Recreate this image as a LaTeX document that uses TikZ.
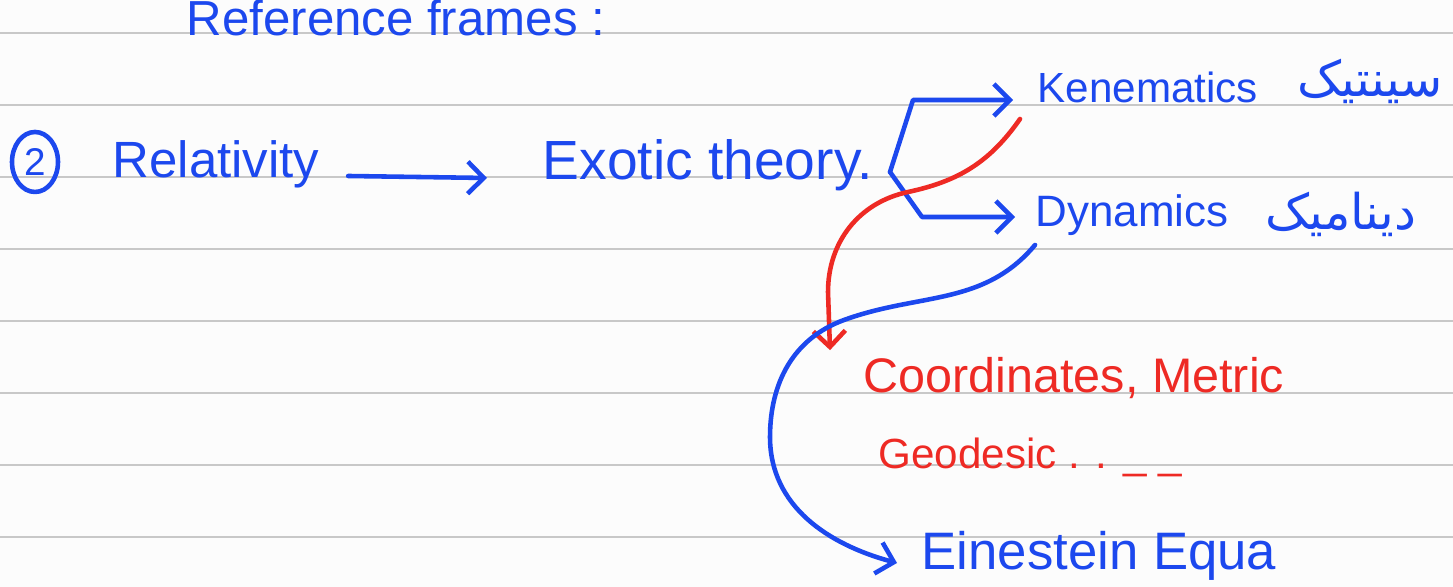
\documentclass[tikz,border=0pt]{standalone}
\usepackage{fontspec}
\setmainfont{Liberation Sans}
\newfontfamily\farsifont[Script=Arabic]{DejaVu Sans}
\TeXXeTstate=1
\usetikzlibrary{arrows.meta,shapes.geometric}
\definecolor{inkblue}{RGB}{28,72,238}
\definecolor{inkred}{RGB}{238,42,36}
\definecolor{paper}{RGB}{252,252,252}
\definecolor{ruling}{RGB}{200,200,200}
\tikzset{
  rule/.style={line width=0.7pt,draw=ruling},
  pen/.style={line width=1.3pt,draw=inkblue,line cap=round,line join=round},
  redpen/.style={pen,draw=inkred},
  penarrow/.style={-{Straight Barb[length=1.6mm,width=3.2mm]}},
  hand/.style={inner sep=0pt,anchor=base west,text=inkblue,font=\fontsize{#1}{#1}\selectfont},
  hand/.default=14,
  redhand/.style={hand=#1,text=inkred},
  redhand/.default=13,
  farsi/.style={inner sep=0pt,anchor=base east,text=inkblue,font=\farsifont\fontsize{#1}{#1}\selectfont},
  farsi/.default=14
}

\begin{document}
\begin{tikzpicture}
  \useasboundingbox[fill=paper] (0,0) rectangle (14.53,5.87);
  \foreach \k in {0,...,7} \draw[rule] (0,5.54-0.72*\k) -- (14.53,5.54-0.72*\k);
  % headline and first row
  \node[hand=14] (title) at (1.86,5.51) {Reference frames :};
  \node[ellipse,pen,text=inkblue,inner sep=0pt,minimum width=4.6mm,minimum height=6mm,font=\fontsize{11}{11}\selectfont] (num) at (0.35,4.25) {2};
  \node[hand=14.5] (rel) at (1.12,4.09) {Relativity};
  \node[hand=15.7] (exo) at (5.42,4.07) {Exotic theory.};
  \draw[pen,penarrow] ([xshift=2.8mm,yshift=0.2mm]rel.base east) -- ([xshift=-5.5mm,yshift=0.2mm]exo.base west);
  % the fork
  \node[hand=12] (kin) at (10.37,4.84) {Kenematics};
  \node[hand=12.5] (dyn) at (10.35,3.60) {Dynamics};
  \node[farsi] (kinfa) at (14.43,4.90) {\beginR سینتیک\endR};
  \node[farsi] (dynfa) at (14.17,3.57) {\beginR دینامیک\endR};
  \coordinate (fork) at (8.90,4.15); \coordinate (kcorner) at (9.13,4.87); \coordinate (dcorner) at (9.22,3.70);
  \draw[pen,penarrow] (fork) -- (kcorner) -- ([xshift=-2.4mm,yshift=0.3mm]kin.base west);
  \draw[pen,penarrow] (fork) -- (dcorner) -- ([xshift=-2mm,yshift=1mm]dyn.base west);
  % lower block
  \node[redhand=13.8] (coord) at (8.63,1.94) {Coordinates, Metric};
  \node[redhand=12] (geo) at (8.78,1.18) {Geodesic . . \_ \_};
  \node[hand=15] (ein) at (9.21,0.17) {Einestein Equa};
  \draw[redpen,penarrow] ([xshift=-1.7mm,yshift=-1.6mm]kin.base west) to[out=-125,in=12] (9.08,3.95) to[out=192,in=90] (8.28,2.95) -- ([xshift=-3.3mm,yshift=0.7mm]coord.north west);
  \draw[pen,penarrow] ([yshift=-1.8mm]dyn.base west) to[out=-130,in=20] (8.44,2.67) to[out=200,in=90] (7.70,1.50) to[out=-90,in=165] ([xshift=-2.4mm,yshift=0.7mm]ein.base west);
\end{tikzpicture}
\end{document}
